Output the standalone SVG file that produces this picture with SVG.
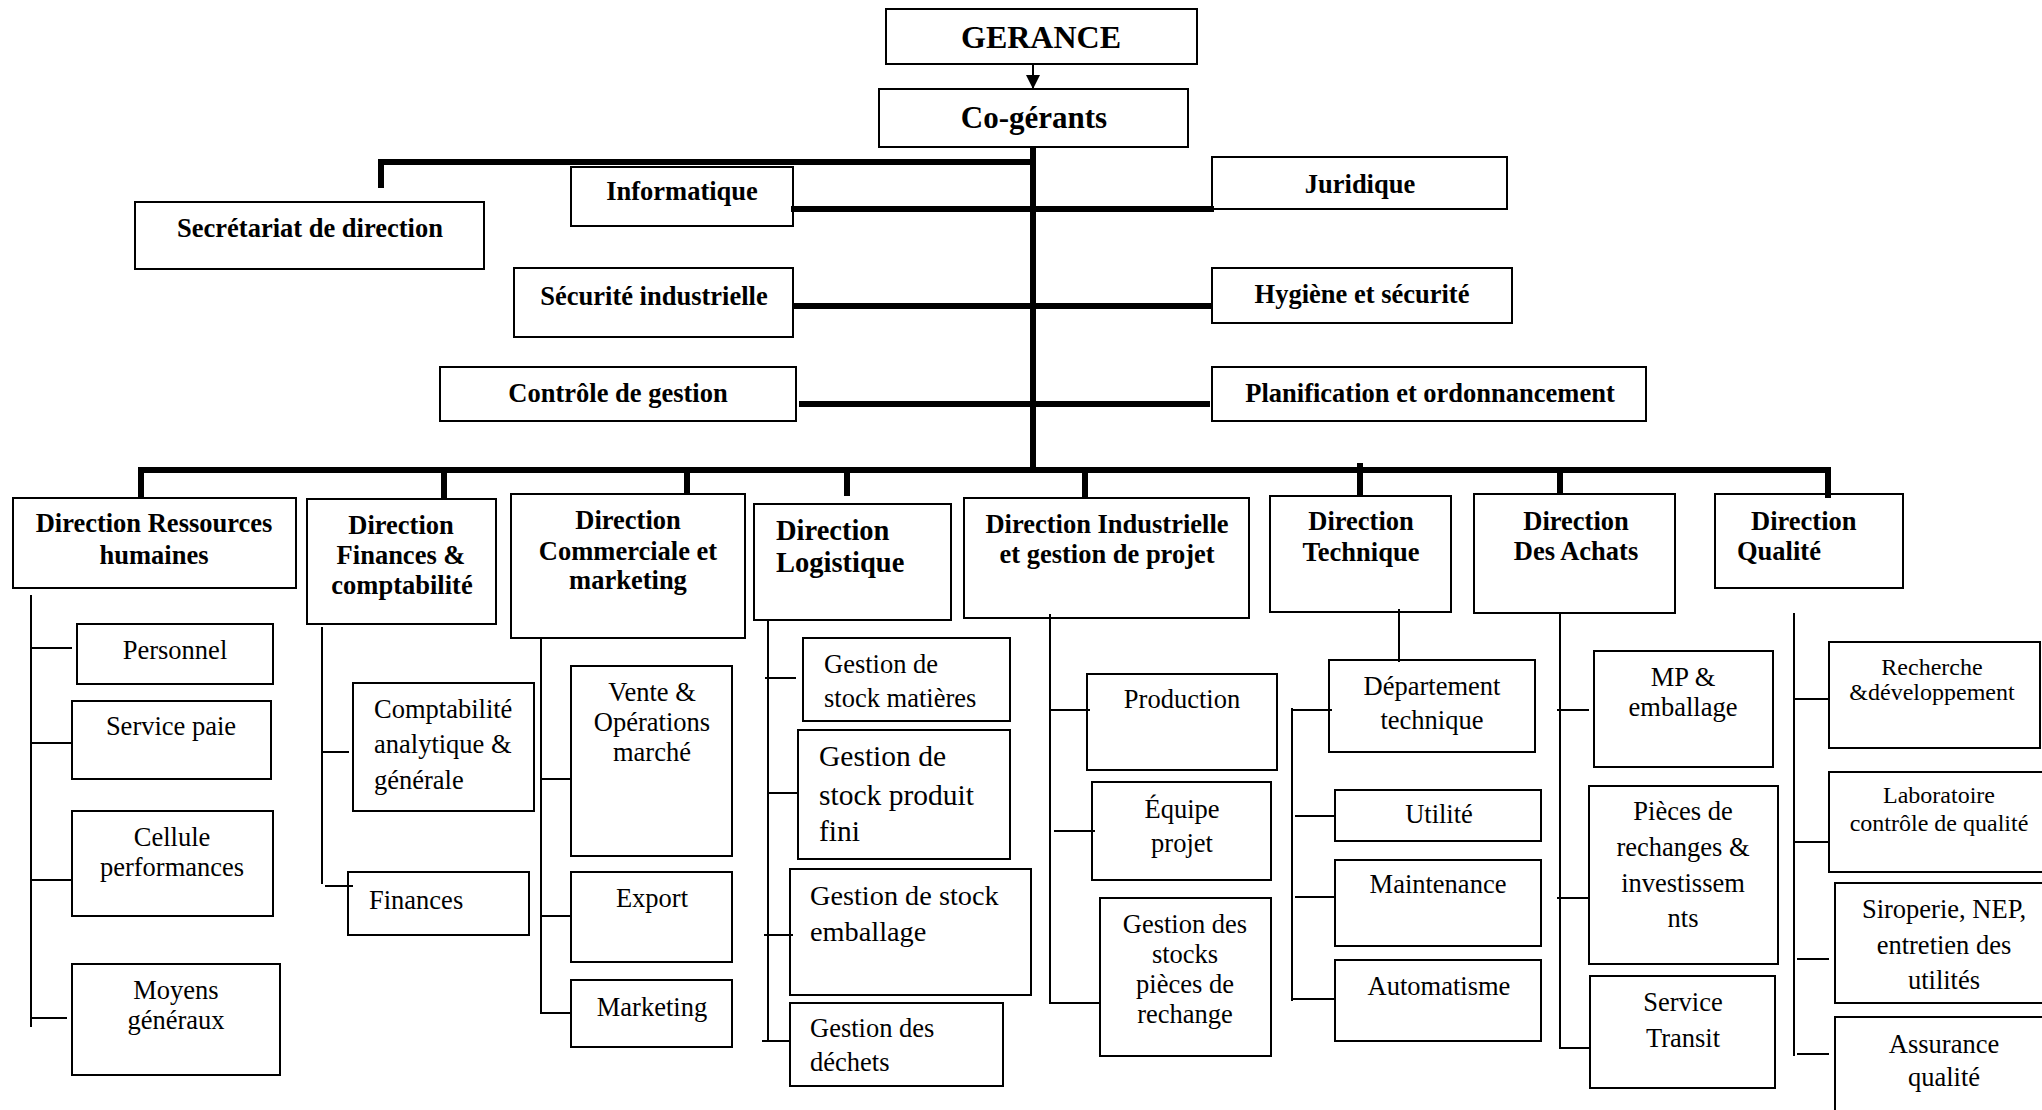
<svg xmlns="http://www.w3.org/2000/svg" width="2042" height="1110" viewBox="0 0 2042 1110">
  <style>
    .box { fill: #fff; stroke: #000; stroke-width: 2; }
    text { font-family: "Liberation Serif", "Times New Roman", serif; fill: #000; }
    .c { text-anchor: middle; }
    .b { font-weight: bold; font-size: 26.5px; }
    .big { font-weight: bold; font-size: 32px; }
    .r { font-size: 26.5px; }
    .s { font-size: 24px; }
    .thick { stroke: #000; stroke-width: 6; fill: none; stroke-linecap: butt; }
    .thin { stroke: #000; stroke-width: 2; fill: none; }
  </style>
  <defs>
    <marker id="arrow" viewBox="0 0 10 10" refX="10" refY="5" markerWidth="15" markerHeight="14" markerUnits="userSpaceOnUse" orient="auto">
      <path d="M0,0 L10,5 L0,10 Z" fill="#000"/>
    </marker>
  </defs>
  <rect width="2042" height="1110" fill="#fff"/>

  <!-- top management -->
  <g id="n-gerance">
    <rect class="box" x="886" y="9" width="311" height="55"/>
    <text class="big c" x="1041" y="48">GERANCE</text>
  </g>
  <g id="n-cogerants">
    <rect class="box" x="879" y="89" width="309" height="58"/>
    <text class="big c" x="1034" y="128" style="font-size:31px">Co-gérants</text>
  </g>
  <g id="n-secretariat">
    <rect class="box" x="135" y="202" width="349" height="67"/>
    <text class="b c" x="310" y="237">Secrétariat de direction</text>
  </g>
  <g id="n-informatique">
    <rect class="box" x="571" y="167" width="222" height="59"/>
    <text class="b c" x="682" y="200">Informatique</text>
  </g>
  <g id="n-juridique">
    <rect class="box" x="1212" y="157" width="295" height="52"/>
    <text class="b c" x="1360" y="193">Juridique</text>
  </g>
  <g id="n-securite">
    <rect class="box" x="514" y="268" width="279" height="69"/>
    <text class="b c" x="654" y="305">Sécurité industrielle</text>
  </g>
  <g id="n-hygiene">
    <rect class="box" x="1212" y="268" width="300" height="55"/>
    <text class="b c" x="1362" y="303">Hygiène et sécurité</text>
  </g>
  <g id="n-controle">
    <rect class="box" x="440" y="367" width="356" height="54"/>
    <text class="b c" x="618" y="402">Contrôle de gestion</text>
  </g>
  <g id="n-planification">
    <rect class="box" x="1212" y="367" width="434" height="54"/>
    <text class="b c" x="1430" y="402">Planification et ordonnancement</text>
  </g>

  <!-- directions -->
  <g id="n-drh">
    <rect class="box" x="13" y="498" width="283" height="90"/>
    <text class="b c" x="154" y="532">Direction Ressources</text>
    <text class="b c" x="154" y="564">humaines</text>
  </g>
  <g id="n-dfc">
    <rect class="box" x="307" y="499" width="189" height="125"/>
    <text class="b c" x="401" y="534">Direction</text>
    <text class="b c" x="401" y="564">Finances &amp;</text>
    <text class="b c" x="402" y="594">comptabilité</text>
  </g>
  <g id="n-dcm">
    <rect class="box" x="511" y="494" width="234" height="144"/>
    <text class="b c" x="628" y="529">Direction</text>
    <text class="b c" x="628" y="560">Commerciale et</text>
    <text class="b c" x="628" y="589">marketing</text>
  </g>
  <g id="n-dl">
    <rect class="box" x="754" y="504" width="197" height="116"/>
    <text class="b" x="776" y="540" style="font-size:28.5px">Direction</text>
    <text class="b" x="776" y="572" style="font-size:28.5px">Logistique</text>
  </g>
  <g id="n-di">
    <rect class="box" x="964" y="498" width="285" height="120"/>
    <text class="b c" x="1107" y="533">Direction Industrielle</text>
    <text class="b c" x="1107" y="563">et gestion de projet</text>
  </g>
  <g id="n-dt">
    <rect class="box" x="1270" y="496" width="181" height="116"/>
    <text class="b c" x="1361" y="530">Direction</text>
    <text class="b c" x="1361" y="561">Technique</text>
  </g>
  <g id="n-da">
    <rect class="box" x="1474" y="494" width="201" height="119"/>
    <text class="b c" x="1576" y="530">Direction</text>
    <text class="b c" x="1576" y="560">Des Achats</text>
  </g>
  <g id="n-dq">
    <rect class="box" x="1715" y="494" width="188" height="94"/>
    <text class="b" x="1751" y="530">Direction</text>
    <text class="b" x="1737" y="560">Qualité</text>
  </g>

  <!-- Ressources humaines -->
  <g id="n-personnel">
    <rect class="box" x="77" y="624" width="196" height="60"/>
    <text class="r c" x="175" y="659">Personnel</text>
  </g>
  <g id="n-paie">
    <rect class="box" x="72" y="701" width="199" height="78"/>
    <text class="r c" x="171" y="735">Service paie</text>
  </g>
  <g id="n-cellule">
    <rect class="box" x="72" y="811" width="201" height="105"/>
    <text class="r c" x="172" y="846">Cellule</text>
    <text class="r c" x="172" y="876">performances</text>
  </g>
  <g id="n-moyens">
    <rect class="box" x="72" y="964" width="208" height="111"/>
    <text class="r c" x="176" y="999">Moyens</text>
    <text class="r c" x="176" y="1029">généraux</text>
  </g>

  <!-- Finances & comptabilité -->
  <g id="n-comptabilite">
    <rect class="box" x="353" y="683" width="181" height="128"/>
    <text class="r" x="374" y="718">Comptabilité</text>
    <text class="r" x="374" y="753">analytique &amp;</text>
    <text class="r" x="374" y="789">générale</text>
  </g>
  <g id="n-finances">
    <rect class="box" x="348" y="872" width="181" height="63"/>
    <text class="r" x="369" y="909">Finances</text>
  </g>

  <!-- Commerciale et marketing -->
  <g id="n-vente">
    <rect class="box" x="571" y="666" width="161" height="190"/>
    <text class="r c" x="652" y="701">Vente &amp;</text>
    <text class="r c" x="652" y="731">Opérations</text>
    <text class="r c" x="652" y="761">marché</text>
  </g>
  <g id="n-export">
    <rect class="box" x="571" y="872" width="161" height="90"/>
    <text class="r c" x="652" y="907">Export</text>
  </g>
  <g id="n-marketing">
    <rect class="box" x="571" y="980" width="161" height="67"/>
    <text class="r c" x="652" y="1016">Marketing</text>
  </g>

  <!-- Logistique -->
  <g id="n-stock-matieres">
    <rect class="box" x="803" y="638" width="207" height="83"/>
    <text class="r" x="824" y="673">Gestion de</text>
    <text class="r" x="824" y="707">stock matières</text>
  </g>
  <g id="n-stock-produit">
    <rect class="box" x="798" y="730" width="212" height="129"/>
    <text class="r" x="819" y="766" style="font-size:29.5px">Gestion de</text>
    <text class="r" x="819" y="805" style="font-size:29.5px">stock produit</text>
    <text class="r" x="819" y="841" style="font-size:29.5px">fini</text>
  </g>
  <g id="n-stock-emballage">
    <rect class="box" x="790" y="869" width="241" height="126"/>
    <text class="r" x="810" y="905" style="font-size:28.3px">Gestion de stock</text>
    <text class="r" x="810" y="941" style="font-size:28.3px">emballage</text>
  </g>
  <g id="n-dechets">
    <rect class="box" x="790" y="1003" width="213" height="83"/>
    <text class="r" x="810" y="1037">Gestion des</text>
    <text class="r" x="810" y="1071">déchets</text>
  </g>

  <!-- Industrielle et gestion de projet -->
  <g id="n-production">
    <rect class="box" x="1087" y="674" width="190" height="96"/>
    <text class="r c" x="1182" y="708">Production</text>
  </g>
  <g id="n-equipe">
    <rect class="box" x="1092" y="782" width="179" height="98"/>
    <text class="r c" x="1182" y="818">Équipe</text>
    <text class="r c" x="1182" y="852">projet</text>
  </g>
  <g id="n-pieces-stock">
    <rect class="box" x="1100" y="898" width="171" height="158"/>
    <text class="r c" x="1185" y="933">Gestion des</text>
    <text class="r c" x="1185" y="963">stocks</text>
    <text class="r c" x="1185" y="993">pièces de</text>
    <text class="r c" x="1185" y="1023">rechange</text>
  </g>

  <!-- Technique -->
  <g id="n-departement">
    <rect class="box" x="1329" y="660" width="206" height="92"/>
    <text class="r c" x="1432" y="695">Département</text>
    <text class="r c" x="1432" y="729">technique</text>
  </g>
  <g id="n-utilite">
    <rect class="box" x="1335" y="790" width="206" height="51"/>
    <text class="r c" x="1439" y="823">Utilité</text>
  </g>
  <g id="n-maintenance">
    <rect class="box" x="1335" y="860" width="206" height="86"/>
    <text class="r c" x="1438" y="893">Maintenance</text>
  </g>
  <g id="n-automatisme">
    <rect class="box" x="1335" y="960" width="206" height="81"/>
    <text class="r c" x="1439" y="995">Automatisme</text>
  </g>

  <!-- Achats -->
  <g id="n-mp">
    <rect class="box" x="1594" y="651" width="179" height="116"/>
    <text class="r c" x="1683" y="686">MP &amp;</text>
    <text class="r c" x="1683" y="716">emballage</text>
  </g>
  <g id="n-pieces-invest">
    <rect class="box" x="1589" y="786" width="189" height="178"/>
    <text class="r c" x="1683" y="820">Pièces de</text>
    <text class="r c" x="1683" y="856">rechanges &amp;</text>
    <text class="r c" x="1683" y="892">investissem</text>
    <text class="r c" x="1683" y="927">nts</text>
  </g>
  <g id="n-transit">
    <rect class="box" x="1590" y="976" width="185" height="112"/>
    <text class="r c" x="1683" y="1011">Service</text>
    <text class="r c" x="1683" y="1047">Transit</text>
  </g>

  <!-- Qualité -->
  <g id="n-recherche">
    <rect class="box" x="1829" y="642" width="211" height="106"/>
    <text class="s c" x="1932" y="675">Recherche</text>
    <text class="s c" x="1932" y="700">&amp;développement</text>
  </g>
  <g id="n-laboratoire">
    <rect class="box" x="1829" y="772" width="230" height="100"/>
    <text class="s c" x="1939" y="803">Laboratoire</text>
    <text class="s c" x="1939" y="831">contrôle de qualité</text>
  </g>
  <g id="n-siroperie">
    <rect class="box" x="1835" y="883" width="230" height="120"/>
    <text class="r c" x="1944" y="918">Siroperie, NEP,</text>
    <text class="r c" x="1944" y="954">entretien des</text>
    <text class="r c" x="1944" y="989">utilités</text>
  </g>
  <g id="n-assurance">
    <rect class="box" x="1835" y="1017" width="230" height="120"/>
    <text class="r c" x="1944" y="1053">Assurance</text>
    <text class="r c" x="1944" y="1086">qualité</text>
  </g>

  <!-- connectors -->
  <g id="connectors">
    <line class="thin" x1="1033" y1="64" x2="1033" y2="89" marker-end="url(#arrow)"/>
    <!-- main trunk and staff lines -->
    <line class="thick" x1="1033" y1="147" x2="1033" y2="473"/>
    <polyline class="thick" points="381,188 381,162 1036,162"/>
    <line class="thick" x1="791" y1="209" x2="1214" y2="209"/>
    <line class="thick" x1="793" y1="306" x2="1212" y2="306"/>
    <line class="thick" x1="799" y1="404" x2="1210" y2="404"/>
    <!-- directions bus -->
    <polyline class="thick" points="141,498 141,470 1828,470 1828,498"/>
    <line class="thick" x1="444" y1="470" x2="444" y2="499"/>
    <line class="thick" x1="687" y1="470" x2="687" y2="494"/>
    <line class="thick" x1="847" y1="470" x2="847" y2="496"/>
    <line class="thick" x1="1085" y1="470" x2="1085" y2="498"/>
    <line class="thick" x1="1360" y1="463" x2="1360" y2="496"/>
    <line class="thick" x1="1560" y1="470" x2="1560" y2="494"/>
    <!-- Ressources humaines -->
    <line class="thin" x1="31" y1="595" x2="31" y2="1027"/>
    <line class="thin" x1="31" y1="648" x2="72" y2="648"/>
    <line class="thin" x1="31" y1="743" x2="72" y2="743"/>
    <line class="thin" x1="31" y1="880" x2="72" y2="880"/>
    <line class="thin" x1="31" y1="1018" x2="67" y2="1018"/>
    <!-- Finances -->
    <line class="thin" x1="322" y1="627" x2="322" y2="884"/>
    <line class="thin" x1="322" y1="752" x2="349" y2="752"/>
    <line class="thin" x1="325" y1="886" x2="353" y2="886"/>
    <!-- Commerciale -->
    <polyline class="thin" points="541,638 541,1013 571,1013"/>
    <line class="thin" x1="541" y1="779" x2="571" y2="779"/>
    <line class="thin" x1="541" y1="916" x2="571" y2="916"/>
    <!-- Logistique -->
    <line class="thin" x1="768" y1="620" x2="768" y2="1042"/>
    <line class="thin" x1="765" y1="678" x2="796" y2="678"/>
    <line class="thin" x1="768" y1="793" x2="798" y2="793"/>
    <line class="thin" x1="764" y1="935" x2="793" y2="935"/>
    <line class="thin" x1="762" y1="1041" x2="790" y2="1041"/>
    <!-- Industrielle -->
    <line class="thin" x1="1050" y1="614" x2="1050" y2="1004"/>
    <line class="thin" x1="1050" y1="710" x2="1090" y2="710"/>
    <line class="thin" x1="1054" y1="831" x2="1095" y2="831"/>
    <line class="thin" x1="1050" y1="1003" x2="1100" y2="1003"/>
    <!-- Technique -->
    <line class="thin" x1="1399" y1="609" x2="1399" y2="662"/>
    <line class="thin" x1="1292" y1="708" x2="1292" y2="1001"/>
    <line class="thin" x1="1292" y1="710" x2="1332" y2="710"/>
    <line class="thin" x1="1295" y1="816" x2="1335" y2="816"/>
    <line class="thin" x1="1295" y1="897" x2="1335" y2="897"/>
    <line class="thin" x1="1292" y1="999" x2="1335" y2="999"/>
    <!-- Achats -->
    <polyline class="thin" points="1560,613 1560,1048 1590,1048"/>
    <line class="thin" x1="1557" y1="710" x2="1589" y2="710"/>
    <line class="thin" x1="1557" y1="898" x2="1589" y2="898"/>
    <!-- Qualité -->
    <line class="thin" x1="1794" y1="613" x2="1794" y2="1056"/>
    <line class="thin" x1="1794" y1="699" x2="1829" y2="699"/>
    <line class="thin" x1="1794" y1="842" x2="1829" y2="842"/>
    <line class="thin" x1="1797" y1="959" x2="1829" y2="959"/>
    <line class="thin" x1="1797" y1="1054" x2="1829" y2="1054"/>
  </g>
</svg>
